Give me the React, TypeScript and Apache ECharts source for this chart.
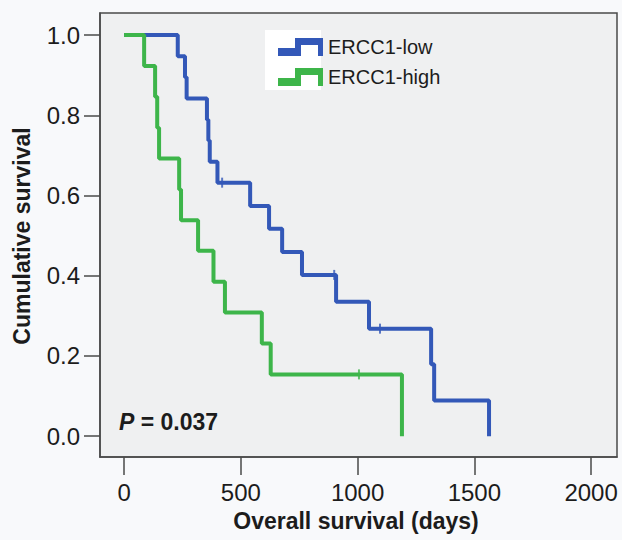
import React, { useEffect, useRef } from "react";
import * as echarts from "echarts";

// Kaplan-Meier curves (days, cumulative survival)
const lowDays = [0, 230, 261, 268, 355, 361, 367, 400, 540, 621, 677, 762, 908, 1049, 1315, 1328, 1563];
const lowSurv = [1.0, 0.947, 0.895, 0.842, 0.789, 0.737, 0.684, 0.632, 0.574, 0.517, 0.459, 0.402, 0.335, 0.268, 0.179, 0.089, 0.0];
const lowCensorDays = [420, 900, 1096];
const lowCensorSurv = [0.632, 0.402, 0.268];

const highDays = [0, 86, 133, 142, 150, 236, 244, 317, 383, 432, 590, 628, 1190];
const highSurv = [1.0, 0.923, 0.846, 0.769, 0.692, 0.615, 0.538, 0.462, 0.385, 0.308, 0.231, 0.154, 0.0];
const highCensorDays = [1006];
const highCensorSurv = [0.154];

const xTicks = [0, 500, 1000, 1500, 2000];
const yTicks = [0, 0.2, 0.4, 0.6, 0.8, 1.0];

const seriesNames = ["ERCC1-low", "ERCC1-high"];
const BLUE = "#3358b8";
const GREEN = "#3db54a";
const AXIS = "#4a4a4a";
const TEXT = "#1c1c1c";
const FONT = "Liberation Sans, Arial, sans-serif";

const ICON = "path://M0,10L17,10L17,0L45,0L45,18L40,18L40,7L23,7L23,18L0,18Z";

export default function App() {
  const ref = useRef<HTMLDivElement>(null);
  useEffect(() => {
    if (!ref.current) return;
    const chart = echarts.init(ref.current, null, { renderer: "svg" });
    const pair = (a: number[], b: number[]) => a.map((v, i) => [v, b[i]]);
    chart.setOption({
      animation: false,
      backgroundColor: "#f8f9fb",
      grid: {
        left: 100,
        top: 13,
        width: 517,
        height: 444,
        show: true,
        backgroundColor: "#eff0f1",
        borderColor: AXIS,
        borderWidth: 1.5,
      },
      xAxis: {
        type: "value",
        min: -103,
        max: 2111,
        splitLine: { show: false },
        axisLine: { show: true, onZero: false, lineStyle: { color: AXIS, width: 1.5 } },
        axisTick: { show: true, length: 18, lineStyle: { color: AXIS, width: 1.5 }, customValues: xTicks },
        axisLabel: {
          customValues: xTicks,
          formatter: (v: number) => String(v),
          color: TEXT,
          fontSize: 24,
          fontFamily: FONT,
          margin: 23,
        },
      },
      yAxis: {
        type: "value",
        min: -0.052,
        max: 1.055,
        splitLine: { show: false },
        axisLine: { show: true, onZero: false, lineStyle: { color: AXIS, width: 1.5 } },
        axisTick: { show: true, length: 16, lineStyle: { color: AXIS, width: 1.5 }, customValues: yTicks },
        axisLabel: {
          customValues: yTicks,
          formatter: (v: number) => v.toFixed(1),
          color: TEXT,
          fontSize: 24,
          fontFamily: FONT,
          margin: 20,
        },
      },
      legend: {
        data: seriesNames.map((n) => ({ name: n, icon: ICON })),
        orient: "vertical",
        left: 273,
        top: 32,
        itemWidth: 45,
        itemHeight: 19,
        itemGap: 10,
        textStyle: { color: TEXT, fontSize: 20, fontFamily: FONT },
      },
      graphic: [
        { type: "rect", left: 265, top: 30, shape: { width: 56, height: 60 }, style: { fill: "#ffffff" }, z: 0 },
        {
          type: "text",
          left: 119,
          top: 410,
          style: {
            text: "{i|P}{b| = 0.037}",
            rich: {
              i: { fontSize: 23, fontWeight: "bold", fontStyle: "italic", fill: TEXT, fontFamily: FONT },
              b: { fontSize: 23, fontWeight: "bold", fill: TEXT, fontFamily: FONT },
            },
          },
        },
        {
          type: "text",
          x: 356,
          y: 521,
          style: {
            text: "Overall survival (days)",
            fontSize: 23,
            fontWeight: "bold",
            fill: TEXT,
            align: "center",
            verticalAlign: "middle",
            fontFamily: FONT,
          },
        },
        {
          type: "text",
          x: 22,
          y: 236,
          rotation: Math.PI / 2,
          style: {
            text: "Cumulative survival",
            fontSize: 23,
            fontWeight: "bold",
            fill: TEXT,
            align: "center",
            verticalAlign: "middle",
            fontFamily: FONT,
          },
        },
      ],
      series: [
        {
          name: seriesNames[0],
          type: "line",
          step: "end",
          data: pair(lowDays, lowSurv),
          showSymbol: false,
          color: BLUE,
          lineStyle: { color: BLUE, width: 4 },
          z: 2,
        },
        {
          name: seriesNames[1],
          type: "line",
          step: "end",
          data: pair(highDays, highSurv),
          showSymbol: false,
          color: GREEN,
          lineStyle: { color: GREEN, width: 4 },
          z: 3,
        },
        {
          name: "low-censored",
          type: "scatter",
          data: pair(lowCensorDays, lowCensorSurv),
          symbol: "rect",
          symbolSize: [2, 10],
          itemStyle: { color: BLUE },
          z: 4,
        },
        {
          name: "high-censored",
          type: "scatter",
          data: pair(highCensorDays, highCensorSurv),
          symbol: "rect",
          symbolSize: [2, 10],
          itemStyle: { color: GREEN },
          z: 4,
        },
      ],
    });
    return () => chart.dispose();
  }, []);
  return <div ref={ref} style={{ position: "fixed", left: 0, top: 0, width: 622, height: 540 }} />;
}
